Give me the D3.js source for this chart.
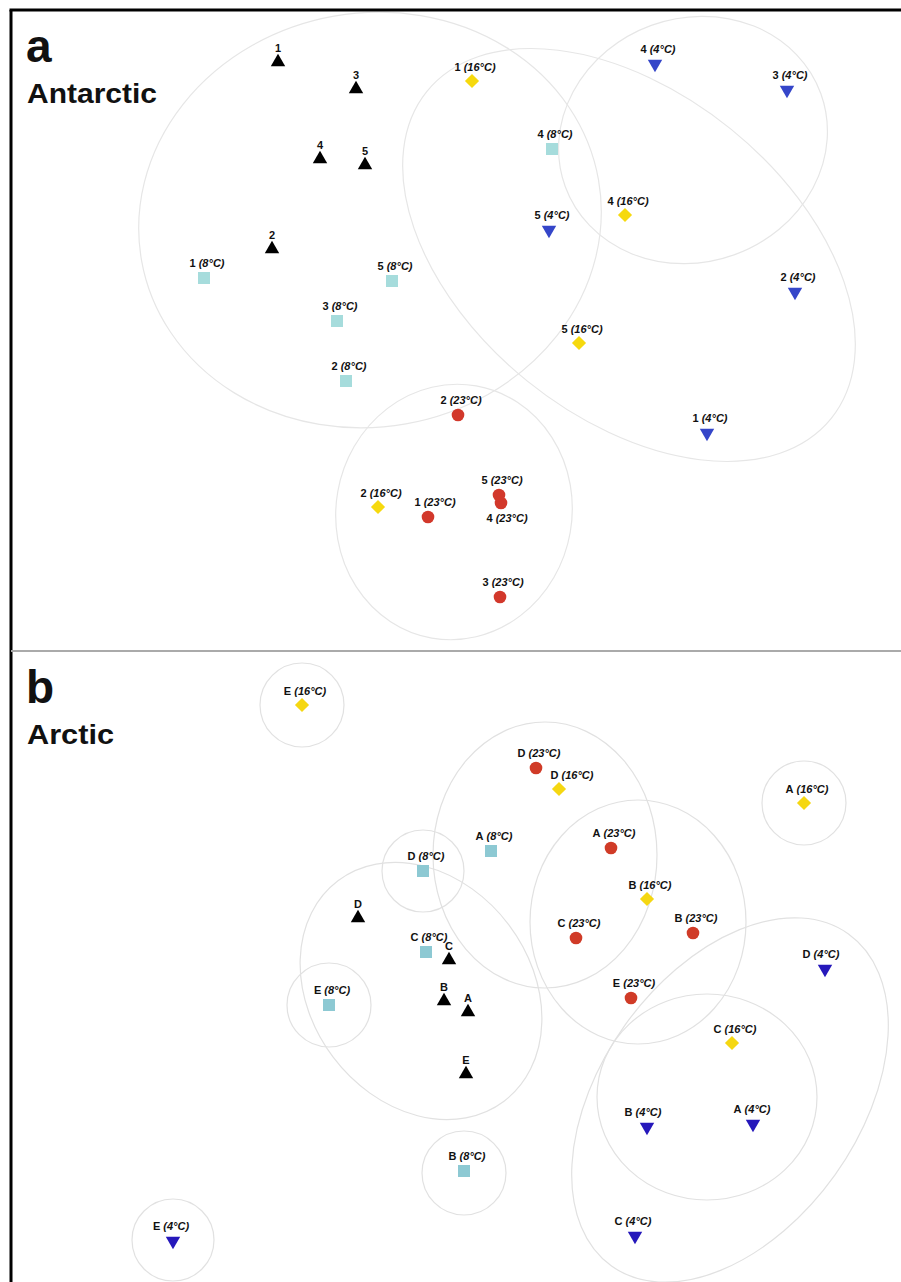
<!DOCTYPE html>
<html>
<head>
<meta charset="utf-8">
<script src="https://cdn.jsdelivr.net/npm/d3@7"></script>
<style>
  body { margin: 0; background: #fff; }
  text { font-family: "Liberation Sans", Arial, Helvetica, sans-serif; }
</style>
</head>
<body>
<svg id="chart" width="901" height="1282"></svg>
<script>
// NMDS scores [axis 1, axis 2] per community; null = sample not available.
// Antarctic sites 1–5
const antarcticSites = ["1", "2", "3", "4", "5"];
const antarcticInSitu = [[-0.89, 1.34], [-0.92, 0.405], [-0.50, 1.205], [-0.68, 0.855], [-0.455, 0.825]];
const antarctic4C  = [[1.255, -0.515], [1.695, 0.19], [1.655, 1.2], [0.995, 1.33], [0.465, 0.5]];
const antarctic8C  = [[-1.26, 0.26], [-0.55, -0.255], [-0.595, 0.045], [0.48, 0.905], [-0.32, 0.245]];
const antarctic16C = [[0.08, 1.245], [-0.39, -0.885], null, [0.845, 0.575], [0.615, -0.065]];
const antarctic23C = [[-0.14, -0.935], [0.01, -0.425], [0.22, -1.335], [0.225, -0.865], [0.215, -0.825]];

// Arctic sites A–E
const arcticSites = ["A", "B", "C", "D", "E"];
const arcticInSitu = [[0.06, -0.23], [-0.06, -0.175], [-0.035, 0.03], [-0.49, 0.24], [0.05, -0.54]];
const arctic4C  = [[1.485, -0.79], [0.955, -0.805], [0.895, -1.35], [1.845, -0.015], [-1.415, -1.375]];
const arctic8C  = [[0.175, 0.575], [0.04, -1.025], [-0.15, 0.07], [-0.165, 0.475], [-0.635, -0.195]];
const arctic16C = [[1.74, 0.815], [0.955, 0.335], [1.38, -0.385], [0.515, 0.885], [-0.77, 1.305]];
const arctic23C = [[0.775, 0.59], [1.185, 0.165], [0.60, 0.14], [0.40, 0.99], [0.875, -0.16]];

// Incubation temperature tags shown after the site name
const temperatureLabels = { inSitu: null, t4: "4°C", t8: "8°C", t16: "16°C", t23: "23°C" };

// Similarity groupings, ellipses in score units: centre, semi-axes, tilt (deg, counter-clockwise)
const antarcticGroups = [
  [-0.43, 0.55, 1.16, 1.035, 10],
  [0.865, 0.375, 1.30, 0.81, -39],
  [1.185, 0.95, 0.68, 0.61, 20],
  [-0.01, -0.91, 0.59, 0.64, -10]
];
const arcticGroups = [
  [-0.77, 1.305, 0.21, 0.21, 0],
  [1.74, 0.815, 0.21, 0.21, 0],
  [-0.165, 0.475, 0.205, 0.205, 0],
  [-0.635, -0.195, 0.21, 0.21, 0],
  [0.04, -1.035, 0.21, 0.21, 0],
  [-1.415, -1.37, 0.205, 0.205, 0],
  [-0.175, -0.125, 0.69, 0.55, -53],
  [0.445, 0.555, 0.56, 0.665, 0],
  [0.91, 0.22, 0.54, 0.61, 0],
  [1.37, -0.67, 1.02, 0.645, 54.5],
  [1.255, -0.655, 0.55, 0.515, 0]
];

// ---------- styling ----------
const W = 901, H = 1282;
const frameLeft = 11, frameTop = 10, divider = 651;

const markerStyle = {
  inSitu: { type: d3.symbolTriangle, size: 90, rotate: 0, labelDy: -10 },
  t4:     { type: d3.symbolTriangle, size: 90, rotate: 180, labelDy: -11 },
  t8:     { type: d3.symbolSquare,   size: 144, rotate: 0, labelDy: -11 },
  t16:    { type: d3.symbolSquare,   size: 100, rotate: 45, labelDy: -10 },
  t23:    { type: d3.symbolCircle,   size: 125, rotate: 0, labelDy: -11 }
};

const panels = [
  {
    id: "a", title: "a", region: "Antarctic", titleWidth: 130,
    top: frameTop, bottom: divider,
    yDomain: [-1.605, 1.6],
    sites: antarcticSites,
    series: { inSitu: antarcticInSitu, t4: antarctic4C, t8: antarctic8C, t16: antarctic16C, t23: antarctic23C },
    colors: { inSitu: "#000000", t4: "#3546c9", t8: "#a6dcdc", t16: "#f6d90e", t23: "#d2382b" },
    groups: antarcticGroups,
    nudge: { "t23-1": [4, 0], "t23-4": [3, 30] },
    groupStroke: "#e6e6e6"
  },
  {
    id: "b", title: "b", region: "Arctic", titleWidth: 87,
    top: divider, bottom: H,
    yDomain: [-1.58, 1.575],
    sites: arcticSites,
    series: { inSitu: arcticInSitu, t4: arctic4C, t8: arctic8C, t16: arctic16C, t23: arctic23C },
    colors: { inSitu: "#000000", t4: "#2618bb", t8: "#8dc9d3", t16: "#f5d712", t23: "#d03b27" },
    groups: arcticGroups,
    nudge: { "t16-D": [10, 0], "t4-A": [-4, 0], "t4-B": [-7, 0], "t4-C": [-5, 0], "t4-D": [-7, 0], "t4-E": [-5, 0] },
    groupStroke: "#e1e1e1"
  }
];

const svg = d3.select("#chart");
svg.append("rect").attr("width", W).attr("height", H).attr("fill", "#fff");

const defs = svg.append("defs");

panels.forEach(p => {
  const x = d3.scaleLinear().domain([-2.225, 2.225]).range([frameLeft, W]);
  const y = d3.scaleLinear().domain(p.yDomain).range([p.bottom, p.top]);
  const unit = x(1) - x(0);

  defs.append("clipPath").attr("id", "clip-" + p.id)
    .append("rect")
    .attr("x", frameLeft).attr("y", p.top)
    .attr("width", W - frameLeft).attr("height", p.bottom - p.top);

  const g = svg.append("g").attr("clip-path", `url(#clip-${p.id})`);

  // group outlines
  g.append("g").selectAll("ellipse")
    .data(p.groups)
    .join("ellipse")
    .attr("transform", d => `translate(${x(d[0])},${y(d[1])}) rotate(${-d[4]})`)
    .attr("rx", d => d[2] * unit)
    .attr("ry", d => d[3] * unit)
    .attr("fill", "none")
    .attr("stroke", p.groupStroke)
    .attr("stroke-width", 1.2);

  // flatten samples
  const samples = [];
  Object.keys(p.series).forEach(key => {
    p.series[key].forEach((v, i) => {
      if (v) samples.push({ key, site: p.sites[i], x: v[0], y: v[1] });
    });
  });

  // markers
  g.append("g").selectAll("path")
    .data(samples)
    .join("path")
    .attr("d", d => d3.symbol().type(markerStyle[d.key].type).size(markerStyle[d.key].size)())
    .attr("transform", d => `translate(${x(d.x)},${y(d.y)}) rotate(${markerStyle[d.key].rotate})`)
    .attr("fill", d => p.colors[d.key]);

  // labels
  const labels = g.append("g").selectAll("text")
    .data(samples)
    .join("text")
    .attr("x", d => {
      const n = p.nudge[d.key + "-" + d.site];
      return x(d.x) + (temperatureLabels[d.key] ? 3 : 0) + (n ? n[0] : 0);
    })
    .attr("y", d => {
      const n = p.nudge[d.key + "-" + d.site];
      return y(d.y) + markerStyle[d.key].labelDy + (n ? n[1] : 0);
    })
    .attr("text-anchor", "middle")
    .attr("font-size", 11)
    .attr("font-weight", "bold")
    .attr("fill", "#111");
  labels.append("tspan").text(d => d.site);
  labels.filter(d => temperatureLabels[d.key])
    .append("tspan")
    .attr("font-style", "italic")
    .text(d => " (" + temperatureLabels[d.key] + ")");

  // panel letter and region name
  svg.append("text")
    .attr("x", 26).attr("y", p.top + 52)
    .attr("font-size", 46).attr("font-weight", "bold").attr("fill", "#111")
    .text(p.title);
  svg.append("text")
    .attr("x", 27).attr("y", p.top + 93)
    .attr("font-size", 27).attr("font-weight", "bold").attr("fill", "#111")
    .attr("textLength", p.titleWidth).attr("lengthAdjust", "spacingAndGlyphs")
    .text(p.region);
});

// frame: heavy top and left rules, light divider between panels
svg.append("line").attr("x1", frameLeft - 1.5).attr("x2", W).attr("y1", frameTop).attr("y2", frameTop)
  .attr("stroke", "#000").attr("stroke-width", 3);
svg.append("line").attr("x1", frameLeft).attr("x2", frameLeft).attr("y1", frameTop).attr("y2", H)
  .attr("stroke", "#000").attr("stroke-width", 3);
svg.append("line").attr("x1", frameLeft).attr("x2", W).attr("y1", divider).attr("y2", divider)
  .attr("stroke", "#aaaaaa").attr("stroke-width", 2);
</script>
</body>
</html>
